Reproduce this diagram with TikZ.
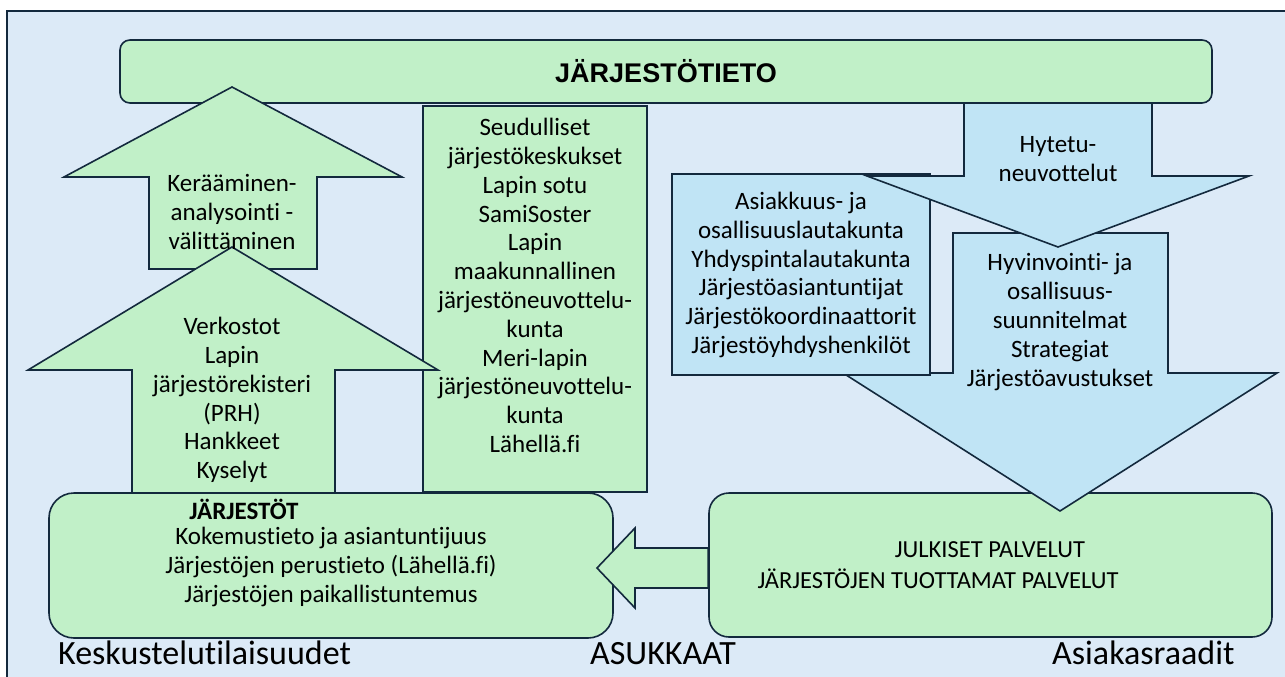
\documentclass[tikz,border=0pt]{standalone}
\usepackage{fontspec}
\setmainfont{Carlito}[Ligatures=NoCommon]
\newfontfamily\arialf{Liberation Sans}
\definecolor{bg}{HTML}{DCEAF7}
\definecolor{gfill}{HTML}{C1F0C8}
\definecolor{bfill}{HTML}{C0E4F5}
\definecolor{dk}{HTML}{13293D}
\begin{document}
\begin{tikzpicture}[x=1pt,y=-1pt,
  grn/.style={fill=gfill,draw=dk,line width=1.6pt,line join=miter},
  blu/.style={fill=bfill,draw=dk,line width=1.6pt,line join=miter},
  txt/.style={align=center,inner sep=0pt,font=\fontsize{25}{28.8}\selectfont},
  lbl/.style={inner sep=0pt,font=\fontsize{34}{40}\selectfont}]
\path[use as bounding box] (0,0) rectangle (1285,677);
\fill[white] (0,0) rectangle (1285,677);
\draw[fill=bg,draw=dk,line width=2.5pt] (7,11) rectangle (1310,710);
% top bar
\node[grn,rounded corners=10pt,minimum width=1092pt,minimum height=63pt,inner sep=0pt] (bar) at (666,71.5)
  {\arialf\bfseries\fontsize{27}{32}\selectfont JÄRJESTÖTIETO};
% middle box
\node[grn,minimum width=224pt,minimum height=386pt,inner sep=0pt] (mid) at (535,299) {};
% up arrows
\draw[grn] (232,87) -- (402,177) -- (317,177) -- (317,269) -- (149,269) -- (149,177) -- (64,177) -- cycle;
\draw[grn] (232,247) -- (438,370) -- (335,370) -- (335,493) -- (132,493) -- (132,370) -- (28,370) -- cycle;
% bottom boxes
\node[grn,rounded corners=25pt,minimum width=564pt,minimum height=145pt,inner sep=0pt] (jarj) at (331,565.5) {};
\node[grn,rounded corners=20pt,minimum width=563pt,minimum height=144pt,inner sep=0pt] (julk) at (990.5,565) {};
% left arrow
\draw[grn] (597,568) -- (635,528) -- (635,548) -- (julk.west |- 0,548) -- (julk.west |- 0,588) -- (635,588) -- (635,608) -- cycle;
% right side
\draw[blu] (953,233) -- (1168,233) -- (1168,373) -- (1277,373) -- (1060,511) -- (843,373) -- (953,373) -- cycle;
\node[blu,minimum width=258pt,minimum height=201pt,inner sep=0pt] (asi) at (801,274.5) {};
\draw[blu] (964,103) -- (1152,103) -- (1152,176) -- (1249,176) -- (1058,247) -- (867,176) -- (964,176) -- cycle;
% texts
\node[txt] (t1) at (232,212) {Kerääminen-\\analysointi -\\välittäminen};
\node[txt] (t2) at (232,400) {Verkostot\\Lapin\\järjestörekisteri\\(PRH)\\Hankkeet\\Kyselyt};
\node[txt] (t3) at (535,285.5) {Seudulliset\\järjestökeskukset\\Lapin sotu\\SamiSoster\\Lapin\\maakunnallinen\\järjestöneuvottelu-\\kunta\\Meri-lapin\\järjestöneuvottelu-\\kunta\\Lähellä.fi};
\node[txt] (t4) at (1058,159) {Hytetu-\\neuvottelut};
\node[txt] (t5) at (801,275) {Asiakkuus- ja\\osallisuuslautakunta\\Yhdyspintalautakunta\\Järjestöasiantuntijat\\Järjestökoordinaattorit\\Järjestöyhdyshenkilöt};
\node[txt] (t6) at (1060,322) {Hyvinvointi- ja\\osallisuus-\\suunnitelmat\\Strategiat\\Järjestöavustukset};
\node[txt,font=\bfseries\fontsize{25}{28.8}\selectfont] (t7) at (244,509) {JÄRJESTÖT};
\node[txt] (t8) at (331,567) {Kokemustieto ja asiantuntijuus\\Järjestöjen perustieto (Lähellä.fi)\\Järjestöjen paikallistuntemus};
\node[txt,font=\fontsize{24.5}{28.8}\selectfont] (t9) at (990,550) {JULKISET PALVELUT};
\node[txt,font=\fontsize{24.5}{28.8}\selectfont] (t10) at (938,579) {JÄRJESTÖJEN TUOTTAMAT PALVELUT};
\node[lbl,anchor=base west] (l1) at (58,664) {Keskustelutilaisuudet};
\node[lbl,anchor=base] (l2) at (663,664) {ASUKKAAT};
\node[lbl,anchor=base west] (l3) at (1052,664) {Asiakasraadit};
\end{tikzpicture}
\end{document}
